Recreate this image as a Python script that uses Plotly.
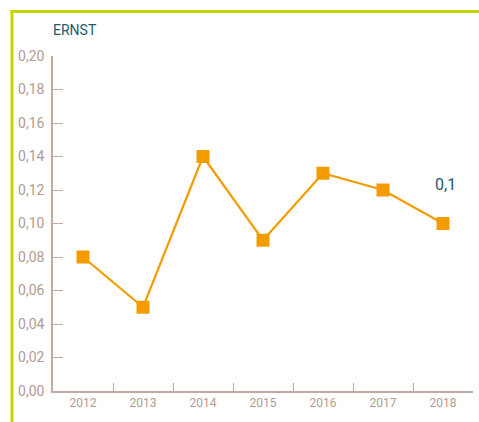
import plotly.graph_objects as go

years = ["2012", "2013", "2014", "2015", "2016", "2017", "2018"]
values = [0.08, 0.05, 0.14, 0.09, 0.13, 0.12, 0.10]
y_ticks = [0.00, 0.02, 0.04, 0.06, 0.08, 0.10, 0.12, 0.14, 0.16, 0.18, 0.20]
title_text = "ERNST"
last_label = "0,1"

axis_col = "#c2aaa2"
tick_font_col = "#b39a92"
teal = "#1e5a6e"
orange = "#f39c00"
frame = "#c6d500"

fig = go.Figure()
fig.add_trace(go.Scatter(
    x=years, y=values, mode="lines+markers",
    line=dict(color=orange, width=2.2),
    marker=dict(symbol="square", size=13, color=orange),
    cliponaxis=False, hoverinfo="skip",
))

W, H = 479, 422
L, R, T, B = 53, 6, 56, 31
pw, ph = W - L - R, H - T - B

def px_x(p):
    return (p - L) / pw

def px_y(p):
    return (H - B - p) / ph

fig.update_layout(
    width=W, height=H,
    margin=dict(l=L, r=R, t=T, b=B),
    paper_bgcolor="white", plot_bgcolor="white",
    separators=",.",
    showlegend=False,
    font=dict(family="Roboto", color=tick_font_col),
    xaxis=dict(
        type="category", range=[-0.5, 6.5],
        showgrid=False, zeroline=False,
        showline=True, linecolor=axis_col, linewidth=1.5,
        ticks="inside", tickson="boundaries", ticklen=8, tickcolor=axis_col, tickwidth=1,
        tickfont=dict(size=12, color=tick_font_col),
    ),
    yaxis=dict(
        range=[0, 0.2], tickvals=y_ticks, tickformat=".2f",
        showgrid=False, zeroline=False,
        showline=True, linecolor=axis_col, linewidth=1.5,
        ticks="inside", ticklen=10, tickcolor=axis_col, tickwidth=1,
        ticklabelstandoff=4,
        tickfont=dict(size=14, color=tick_font_col),
    ),
    shapes=[
        dict(type="line", xref="paper", yref="paper",
             x0=px_x(10.5), x1=px_x(480), y0=px_y(11.5), y1=px_y(11.5),
             line=dict(color=frame, width=3)),
        dict(type="line", xref="paper", yref="paper",
             x0=px_x(12), x1=px_x(12), y0=px_y(10), y1=px_y(425),
             line=dict(color=frame, width=3)),
    ],
    annotations=[
        dict(text=title_text, xref="paper", yref="paper",
             x=px_x(51), y=px_y(30), xanchor="left", yanchor="middle",
             showarrow=False, font=dict(size=14, color=teal, family="Roboto")),
        dict(text=last_label, xref="x", yref="y", x=len(years) - 1, y=values[-1],
             yshift=39, xshift=2, showarrow=False,
             font=dict(size=16, color=teal, family="Roboto")),
    ],
)

fig.write_html("out.html", config={"displayModeBar": False},
               post_script="document.body.style.margin='0px';")
